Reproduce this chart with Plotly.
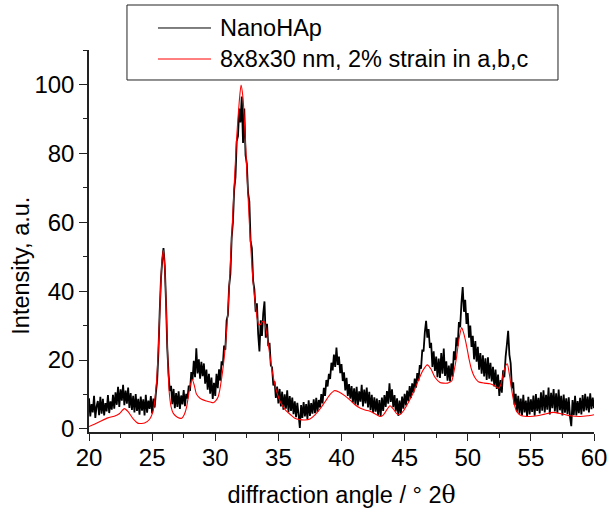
import numpy as np
import plotly.graph_objects as go

# --- measured pattern (NanoHAp), sampled every 0.1 deg 2theta from 20 to 60 ---
two_theta_start = 20.0
two_theta_step = 0.1
nanohap = [
    # 20.x
    8.9, 3.6, 7.2, 4.8, 9.6, 3.2, 6.5, 8.1, 4.0, 9.3,
    # 21.x
    4.4, 8.7, 3.9, 7.5, 5.1, 9.8, 4.6, 8.0, 5.6, 9.9,
    # 22.x
    5.9, 10.6, 7.0, 12.2, 6.4, 11.5, 8.2, 12.8, 6.9, 11.1,
    # 23.x
    7.3, 12.0, 6.1, 10.4, 5.5, 9.6, 4.8, 10.1, 5.2, 8.7,
    # 24.x
    4.1, 9.4, 5.3, 8.6, 3.9, 9.9, 4.7, 8.2, 5.8, 9.5,
    # 25.x
    4.5, 8.8, 6.2, 10.5, 14.0, 22.5, 34.0, 43.5, 49.0, 52.5,
    # 26.x
    47.5, 37.0, 23.5, 16.0, 11.0, 12.5, 7.2, 11.6, 6.0, 10.4,
    # 27.x
    6.4, 10.9, 5.8, 9.7, 7.1, 11.3, 6.6, 10.2, 8.8, 12.6,
    # 28.x
    11.0, 16.5, 14.2, 19.8, 15.0, 23.4, 16.1, 20.2, 14.6, 19.5,
    # 29.x
    15.3, 19.0, 13.1, 17.2, 11.4, 16.0, 10.2, 14.9, 8.7, 13.4,
    # 30.x
    9.6, 16.0, 11.8, 17.3, 14.0, 19.6, 18.5, 24.2, 23.0, 31.5,
    # 31.x
    33.0, 41.5, 45.0, 55.5, 60.0, 69.5, 73.0, 83.5, 85.0, 93.0,
    # 32.x
    89.0, 96.5, 83.0, 93.0, 79.5, 77.0, 68.5, 66.0, 54.5, 52.5,
    # 33.x
    43.0, 40.5, 34.0, 36.5, 27.5, 22.5, 31.5, 27.0, 33.5, 37.0,
    # 34.x
    26.5, 30.5, 24.0, 25.0, 18.5, 17.8, 12.6, 13.8, 9.0, 12.3,
    # 35.x
    7.4, 11.6, 6.5, 10.8, 5.6, 10.0, 5.9, 11.2, 4.9, 9.5,
    # 36.x
    5.2, 9.1, 4.3, 8.0, 3.4, 7.6, 4.1, 0.3, 6.9, 3.2,
    # 37.x
    7.8, 3.6, 7.2, 2.9, 8.3, 3.8, 7.5, 4.4, 8.6, 4.6,
    # 38.x
    9.0, 4.9, 8.4, 6.2, 10.1, 7.4, 11.9, 9.6, 14.2, 12.3,
    # 39.x
    16.0, 14.5, 19.2, 17.0, 21.6, 18.0, 23.6, 18.6, 21.0, 16.2,
    # 40.x
    18.8, 13.9, 16.4, 11.2, 14.8, 9.6, 13.0, 8.8, 12.4, 7.6,
    # 41.x
    11.8, 7.0, 12.2, 6.8, 10.9, 7.9, 12.8, 6.5, 11.4, 7.4,
    # 42.x
    12.0, 6.2, 10.8, 5.4, 9.9, 4.6, 9.2, 5.0, 8.8, 3.9,
    # 43.x
    8.4, 3.7, 9.1, 5.2, 9.8, 6.4, 11.0, 7.3, 13.2, 7.8,
    # 44.x
    11.5, 6.3, 9.8, 5.1, 8.9, 3.8, 8.2, 4.4, 9.4, 5.9,
    # 45.x
    10.2, 6.8, 11.1, 8.0, 12.4, 9.0, 13.2, 10.5, 14.6, 12.0,
    # 46.x
    16.2, 14.0, 18.5, 17.5, 23.0, 22.5, 28.0, 31.4, 26.5, 29.0,
    # 47.x
    23.5, 25.0, 18.0, 22.5, 16.8, 21.0, 15.0, 20.4, 14.8, 22.0,
    # 48.x
    16.0, 23.3, 15.4, 19.6, 14.0, 18.4, 13.8, 19.0, 15.2, 22.5,
    # 49.x
    20.0, 26.5, 24.0, 31.0, 29.5, 36.5, 41.2, 34.0, 37.5, 30.5,
    # 50.x
    33.6, 26.5, 30.0, 23.8, 27.0, 20.2, 25.5, 19.5, 23.8, 17.2,
    # 51.x
    22.0, 16.0, 21.4, 15.2, 20.5, 14.2, 20.8, 14.6, 19.2, 13.8,
    # 52.x
    18.0, 12.3, 17.2, 11.6, 15.8, 9.6, 14.2, 10.5, 17.0, 15.0,
    # 53.x
    21.0, 24.5, 28.5, 21.5, 19.0, 11.8, 13.5, 7.0, 10.2, 5.0,
    # 54.x
    9.6, 4.4, 8.8, 3.9, 9.9, 4.8, 8.2, 3.7, 9.3, 4.2,
    # 55.x
    8.6, 4.9, 9.7, 3.8, 10.1, 5.2, 9.0, 4.5, 10.6, 5.3,
    # 56.x
    11.2, 4.8, 9.9, 5.6, 12.0, 4.2, 10.5, 6.0, 11.6, 5.1,
    # 57.x
    10.3, 4.6, 11.4, 5.4, 9.6, 3.9, 10.0, 4.7, 8.9, 4.3,
    # 58.x
    9.2, 3.5, 0.8, 8.4, 4.0, 9.6, 3.9, 8.1, 4.6, 9.0,
    # 59.x
    4.2, 9.8, 5.1, 10.2, 5.4, 9.4, 4.8, 10.3, 5.7, 9.1,
    # 60.0
    6.0,
]
nanohap_x = np.round(two_theta_start + two_theta_step * np.arange(len(nanohap)), 2)

# --- simulated pattern: 8x8x30 nm crystallites, 2% strain in a,b,c ---
sim_x = [
    20.0, 20.5, 21.0, 21.5, 22.0, 22.4, 22.8, 23.1, 23.5, 23.9, 24.4, 24.8,
    25.1, 25.36, 25.5, 25.62, 25.75, 25.89, 26.0, 26.15, 26.25, 26.34, 26.5,
    26.68, 27.0, 27.34, 27.55, 27.74, 28.0, 28.18, 28.35, 28.5, 28.66, 28.92,
    29.3, 29.6, 29.85, 30.05, 30.24, 30.5, 30.8, 31.0, 31.17, 31.4, 31.7,
    31.9, 32.04, 32.2, 32.5, 32.7, 32.86, 33.0, 33.17, 33.3, 33.44, 33.6,
    33.75, 33.9, 34.1, 34.3, 34.5, 34.7, 34.9, 35.2, 35.55, 36.0, 36.3,
    36.7, 37.1, 37.5, 37.9, 38.3, 38.7, 39.1, 39.43, 39.8, 40.28, 40.7,
    41.07, 41.5, 41.86, 42.2, 42.5, 42.8, 43.05, 43.3, 43.6, 43.84, 44.1,
    44.35, 44.6, 44.9, 45.15, 45.4, 45.75, 46.1, 46.45, 46.8, 47.1, 47.4,
    47.8, 48.06, 48.4, 48.73, 48.9, 49.12, 49.3, 49.52, 49.7, 49.92, 50.1,
    50.31, 50.55, 50.84, 51.3, 51.76, 52.1, 52.42, 52.6, 52.82, 53.0, 53.13,
    53.3, 53.48, 53.68, 53.88, 54.27, 54.93, 55.5, 56.1, 56.78, 57.4, 58.1,
    58.9, 59.5, 60.0,
]
sim_y = [
    0.7, 1.5, 2.4, 3.2, 3.7, 4.4, 5.9, 5.0, 2.9, 1.6, 1.7, 2.8,
    5.5, 14.2, 24.0, 35.5, 47.0, 51.9, 47.0, 30.7, 19.0, 11.3, 6.5,
    4.5, 3.4, 3.1, 4.2, 6.5, 12.3, 14.4, 12.5, 10.2, 9.4, 8.6,
    8.1, 7.8, 7.6, 8.2, 9.4, 14.5, 24.0, 34.0, 46.0, 63.0, 84.8,
    95.0, 99.8, 96.0, 75.0, 60.0, 50.0, 42.5, 36.5, 32.5, 30.2, 30.4,
    31.2, 31.0, 27.0, 22.0, 17.0, 13.2, 10.4, 7.5, 5.5, 4.0, 3.1,
    2.7, 2.6, 2.9, 4.1, 5.8, 7.9, 10.0, 11.1, 10.7, 9.6, 8.3,
    7.0, 6.0, 5.5, 5.2, 4.7, 4.1, 3.6, 4.0, 5.6, 6.7, 5.8,
    4.5, 4.1, 5.2, 6.7, 8.4, 11.0, 14.2, 17.0, 18.6, 17.3, 15.0,
    13.5, 13.3, 13.3, 13.9, 16.5, 21.0, 26.0, 29.4, 27.5, 23.9, 20.3,
    17.1, 15.0, 13.7, 13.3, 13.1, 12.6, 11.8, 12.6, 16.1, 18.3, 18.9,
    15.8, 11.3, 7.3, 5.0, 3.8, 3.6, 3.8, 4.3, 4.8, 4.4, 3.8,
    3.6, 3.8, 4.1,
]

legend_labels = ["NanoHAp", "8x8x30 nm, 2% strain in a,b,c"]
line_colors = ["#000000", "#ff0000"]

x_tick_values = [20, 25, 30, 35, 40, 45, 50, 55, 60]
y_tick_values = [0, 20, 40, 60, 80, 100]

FONT = "Arial, 'Liberation Sans', sans-serif"
TICK_SIZE = 24
TEXT_SIZE = 23.5

fig = go.Figure()
fig.add_trace(go.Scatter(
    x=nanohap_x, y=nanohap, mode="lines", name=legend_labels[0],
    line=dict(color=line_colors[0], width=1.8, simplify=False),
))
fig.add_trace(go.Scatter(
    x=sim_x, y=sim_y, mode="lines", name=legend_labels[1],
    line=dict(color=line_colors[1], width=1.1, shape="spline", smoothing=0.6),
))

# hand-built legend box (sits across the top of the axes)
box_x0, box_x1 = 0.0752, 0.9287
box_y0, box_y1 = 0.9215, 1.1178
row_y = [1.0576, 0.9764]
sym_x0, sym_x1, txt_x = 0.1366, 0.2416, 0.2554

shapes = [dict(type="rect", xref="paper", yref="paper",
               x0=box_x0, x1=box_x1, y0=box_y0, y1=box_y1,
               line=dict(color="#222222", width=1), fillcolor="rgba(0,0,0,0)")]
annotations = []
for label, color, yy in zip(legend_labels, line_colors, row_y):
    shapes.append(dict(type="line", xref="paper", yref="paper",
                       x0=sym_x0, x1=sym_x1, y0=yy, y1=yy,
                       line=dict(color=color, width=1)))
    annotations.append(dict(xref="paper", yref="paper", x=txt_x, y=yy,
                            xanchor="left", yanchor="middle", showarrow=False,
                            text=label, font=dict(family=FONT, size=TEXT_SIZE, color="#000000")))

# y-axis title
annotations.append(dict(xref="paper", yref="paper", x=-0.135, y=0.435,
                        xanchor="center", yanchor="middle", showarrow=False,
                        textangle=-90, text="Intensity, a.u.",
                        font=dict(family=FONT, size=TEXT_SIZE, color="#000000")))

fig.update_layout(
    width=607, height=509,
    margin=dict(l=89, r=13, t=50, b=77, autoexpand=False),
    paper_bgcolor="white", plot_bgcolor="white",
    showlegend=False,
    font=dict(family=FONT, size=TEXT_SIZE, color="#000000"),
    shapes=shapes, annotations=annotations,
    xaxis=dict(
        range=[20, 60], tickvals=x_tick_values,
        showgrid=False, zeroline=False, automargin=False,
        showline=True, linecolor="#222222", linewidth=1.5,
        ticks="outside", ticklen=7, tickwidth=1, tickcolor="#222222",
        minor=dict(ticks="outside", ticklen=4, tickwidth=1, tickcolor="#222222", dtick=2.5, showgrid=False),
        tickfont=dict(family=FONT, size=TICK_SIZE),
        ticklabeloverflow="allow", ticklabelstandoff=-4,
        title=dict(text="diffraction angle / ° 2<span style='font-family:DejaVu Serif'>θ</span>",
                   font=dict(family=FONT, size=TEXT_SIZE), standoff=22),
    ),
    yaxis=dict(
        range=[-0.9, 110], tickvals=y_tick_values,
        showgrid=False, zeroline=False, automargin=False,
        showline=True, linecolor="#222222", linewidth=1.5,
        ticks="outside", ticklen=8, tickwidth=1, tickcolor="#222222",
        minor=dict(ticks="outside", ticklen=4, tickwidth=1, tickcolor="#222222", dtick=10, showgrid=False),
        tickfont=dict(family=FONT, size=TICK_SIZE),
    ),
)

fig.write_html("out.html")
